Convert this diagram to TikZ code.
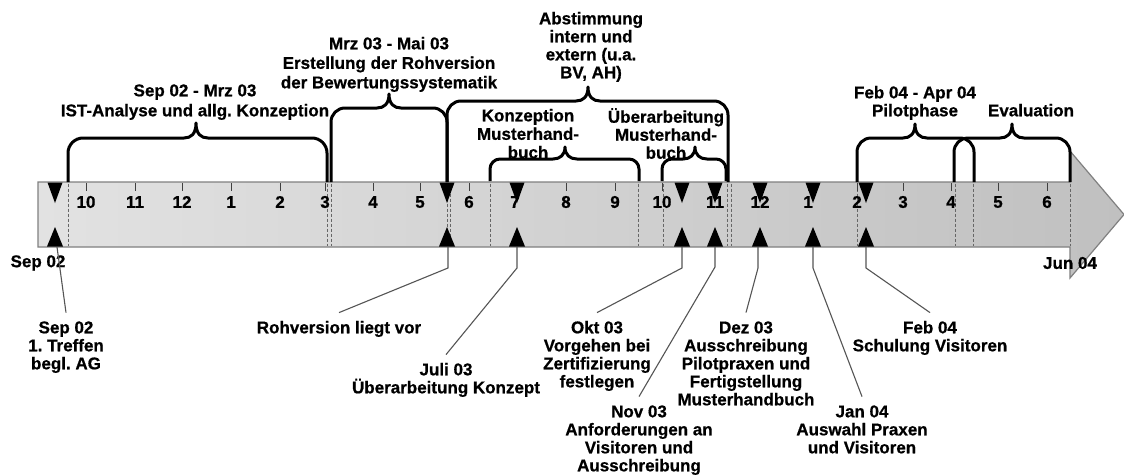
\documentclass[tikz,border=0pt]{standalone}
\usepackage{fontspec}
\setmainfont[BoldFeatures={FakeBold=0.7}]{Liberation Sans}
\definecolor{barL}{RGB}{226,226,226}
\definecolor{barR}{RGB}{192,192,192}
\definecolor{lineC}{RGB}{85,85,85}
\newcommand\fls{\rule{0pt}{15.5pt}}
% brace: xl xr xt yh ytip ybot r
\newcommand\tlbrace[7]{%
  \draw[brc] (#1,#6) -- (#1,#4+#7) .. controls (#1,#4+0.45*#7) and (#1+0.45*#7,#4) .. (#1+#7,#4)
    -- (#3-12,#4) .. controls (#3-5,#4) and (#3,#4-4) .. (#3,#5)
    .. controls (#3,#4-4) and (#3+5,#4) .. (#3+12,#4)
    -- (#2-#7,#4) .. controls (#2-0.45*#7,#4) and (#2,#4+0.45*#7) .. (#2,#4+#7) -- (#2,#6);}
\begin{document}
\frenchspacing
\begin{tikzpicture}[x=1pt,y=-1pt,
  lbl/.style={font=\bfseries\fontsize{17}{18}\selectfont, align=center, inner sep=0pt, anchor=north},
  mon/.style={font=\bfseries\fontsize{17}{18}\selectfont, inner sep=0pt},
  brc/.style={line width=3pt, line join=round, draw=black},
  conn/.style={draw=lineC, line width=1.1pt},
  dsh/.style={draw=black!60, line width=0.9pt, dash pattern=on 3pt off 2pt},
  tri/.style={fill=black},
  tick/.style={draw=black!75, line width=1pt}]
\useasboundingbox (0,0) rectangle (1124,474);
\fill[white] (0,0) rectangle (1124,474);

% bar arrow
\path[draw=black!50, line width=1.2pt, left color=barL, right color=barR]
  (38,182) -- (1070,182) -- (1070,151) -- (1124,214.5) -- (1070,278) -- (1070,247) -- (38,247) -- cycle;

% dashed lines
\foreach \x in {68,327,331,447,450,490,638,663,727,731,857,955,973,1070}
  \draw[dsh] (\x,183.5) -- (\x,246);

% ticks and month labels
\foreach \x/\m [count=\i] in {86/10,135/11,182/12,231/1,280/2,325/3,373/4,420/5,469/6,515/7,566/8,615/9,662/10,715/11,760/12,808/1,857/2,903/3,951/4,998/5,1047/6}{
  \draw[tick] (\x,183) -- (\x,191);
  \node[mon] (mon\i) at (\x,202) {\m};
}

% triangles
\foreach \x/\n in {55/a,447/b,517/c,682/d,715/e,760/f,813/g,866/h}{
  \fill[tri] (\x-7.5,182.5) -- (\x+7.5,182.5) -- (\x,203) -- cycle;
  \fill[tri] (\x-8,246.5) -- (\x+8,246.5) -- (\x,227) -- cycle;
  \coordinate (t\n) at (\x,247);
}

% braces
\tlbrace{68}{327}{196}{138}{123}{182}{15}
\tlbrace{331}{447}{389}{108}{94}{182}{14}
\tlbrace{447}{728}{588}{101}{87}{182}{14}
\tlbrace{490}{639}{565}{159}{147}{181}{10}
\tlbrace{662}{726}{695}{159}{147}{181}{10}
\tlbrace{857}{974}{915}{138}{124}{182}{14}
\tlbrace{954}{1070}{1012}{138}{124}{182}{14}

% top texts
\node[lbl, font=\bfseries\fontsize{17}{20}\selectfont] (p1) at (195,80.6) {\fls Sep 02 - Mrz 03\\IST-Analyse und allg. Konzeption};
\node[lbl, font=\bfseries\fontsize{17}{19.5}\selectfont] (p2) at (389,33.6) {\fls Mrz 03 - Mai 03\\Erstellung der Rohversion\\der Bewertungssystematik};
\node[lbl] (p3) at (591,8.6) {\fls Abstimmung\\intern und\\extern (u.a.\\BV, AH)};
\node[lbl, font=\bfseries\fontsize{17}{18.5}\selectfont] (p4) at (528,105.6) {\fls Konzeption\\Musterhand-\\buch};
\node[lbl] (p5) at (666,107) {\fls Überarbeitung\\Musterhand-\\buch};
\node[lbl] (p6) at (915,82.6) {\fls Feb 04 - Apr 04\\Pilotphase};
\node[lbl] (p7) at (1031,100.6) {\fls Evaluation};

% end labels
\node[mon] (s0) at (38,263) {Sep 02};
\node[mon] (s1) at (1070,263) {Jun 04};

% bottom labels
\node[lbl] (L1) at (66,317.6) {\fls Sep 02\\1. Treffen\\begl. AG};
\node[lbl] (L2) at (339,317.6) {\fls Rohversion liegt vor};
\node[lbl] (L3) at (446,359.6) {\fls Juli 03\\Überarbeitung Konzept};
\node[lbl] (L4) at (597,317.6) {\fls Okt 03\\Vorgehen bei\\Zertifizierung\\festlegen};
\node[lbl] (L5) at (639,401.6) {\fls Nov 03\\Anforderungen an\\Visitoren und\\Ausschreibung};
\node[lbl] (L6) at (746,317.6) {\fls Dez 03\\Ausschreibung\\Pilotpraxen und\\Fertigstellung\\Musterhandbuch};
\node[lbl] (L7) at (862,401.6) {\fls Jan 04\\Auswahl Praxen\\und Visitoren};
\node[lbl] (L8) at (930,317.6) {\fls Feb 04\\Schulung Visitoren};

% connectors
\draw[conn] ([xshift=2pt]ta) -- ([yshift=5pt]L1.north);
\draw[conn] ([xshift=1pt]tb) -- ++(0,21) -- ([yshift=5pt]L2.north);
\draw[conn] (tc) -- ++(0,21) -- ([yshift=5pt]L3.north);
\draw[conn] (td) -- ++(0,21) -- ([yshift=5pt]L4.north);
\draw[conn] (te) -- ++(0,20) -- ([yshift=5pt]L5.north);
\draw[conn] ([xshift=-2pt]tf) -- ++(0,21) -- ([yshift=5pt]L6.north);
\draw[conn] (tg) -- ++(0,21) -- ([yshift=5pt]L7.north);
\draw[conn] (th) -- ++(0,21) -- ([yshift=5pt]L8.north);
\end{tikzpicture}
\end{document}
